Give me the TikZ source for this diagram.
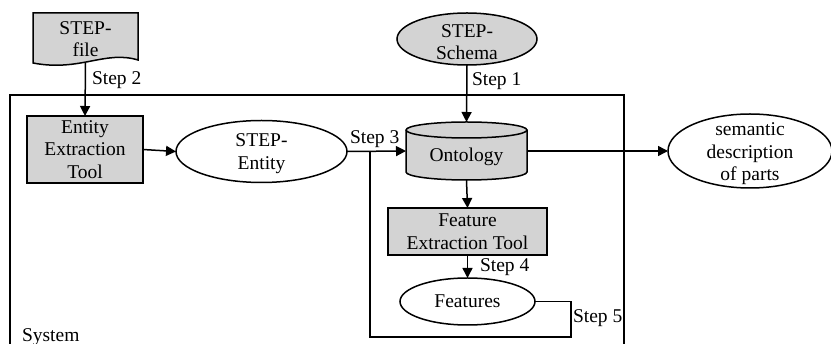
\documentclass[tikz,border=0pt]{standalone}
\usepackage{fontspec}
\setmainfont{Liberation Serif}
\usetikzlibrary{arrows.meta,shapes.geometric}
\definecolor{boxgray}{RGB}{211,211,211}
\begin{document}
\begin{tikzpicture}[x=1pt,y=-1pt,
  every node/.style={font=\fontsize{19.5}{22.5}\selectfont, inner sep=0pt, outer sep=0pt},
  line/.style={line width=1.5pt},
  arr/.style={line width=1.5pt, -{Triangle[length=10pt,width=10pt]}},
  toolbox/.style={rectangle, draw, line width=1.5pt, fill=boxgray, align=center},
  oval/.style={ellipse, draw, line width=1.5pt},
  steplabel/.style={anchor=west}]
\useasboundingbox (0,0) rectangle (831,344);
% system box
\draw[line] (10,360) -- (10,95) -- (624,95) -- (624,360);
\node[anchor=west] (system) at (22,337) {System};

% STEP-file document
\node[minimum width=105pt, minimum height=50pt] (stepfile) at (85.5,38) {};
\filldraw[line, fill=boxgray] (33,13) -- (138,13) -- (138,60)
   .. controls (105,50) and (80,72) .. (33,63) -- cycle;
\node[align=center] at (85.5,39) {STEP-\\file};

% Entity Extraction Tool
\node[toolbox, minimum width=116pt, minimum height=67pt] (eet) at (85,149.5) {Entity\\Extraction\\Tool};

% STEP-Entity
\node[oval, minimum width=171pt, minimum height=62pt,
  label={[align=center,yshift=-2pt]center:{STEP-\\Entity}}] (stepentity) at (261.5,151.5) {};

% STEP-Schema
\node[oval, fill=boxgray, minimum width=140pt, minimum height=52pt,
  label={[align=center,yshift=-3pt]center:{STEP-\\Schema}}] (schema) at (467,39) {};

% Ontology cylinder
\node[minimum width=121pt, minimum height=58pt] (ontology) at (466.5,151) {};
\filldraw[line, fill=boxgray] (406,130) -- (406,172) arc[start angle=180, end angle=360, x radius=60.5pt, y radius=8pt]
   -- (527,130) arc[start angle=0, end angle=180, x radius=60.5pt, y radius=8pt] -- cycle;
\draw[line] (406,130) arc[start angle=180, end angle=360, x radius=60.5pt, y radius=8pt];
\node at (466.5,157) {Ontology};

% semantic description
\node[oval, minimum width=164pt, minimum height=74pt,
  label={[align=center,yshift=-3pt]center:{semantic\\description\\of parts}}] (semantic) at (750,151) {};

% Feature Extraction Tool
\node[toolbox, minimum width=159pt, minimum height=47pt] (fet) at (467.5,231.5) {Feature\\Extraction Tool};

% Features
\node[oval, minimum width=135pt, minimum height=47pt,
  label={center:Features}] (features) at (467.5,301.5) {};

\coordinate (junction) at (370,151);

% connectors
\draw[arr] (stepfile.south) -- (eet.north);
\draw[arr] (eet.east) -- (stepentity.west);
\draw[arr] (stepentity.east) -- (ontology.west);
\draw[arr] (schema.south) -- (ontology.north);
\draw[arr] (ontology.east) -- (semantic.west);
\draw[arr] (ontology.south) -- (fet.north);
\draw[arr] (fet.south) -- (features.north);
\draw[line] (features.east) -- (571,301.5) -- (571,337) -- (370,337) -- (junction);

% step labels
\node[steplabel] at (92,80) {Step 2};
\node[steplabel] at (472,81) {Step 1};
\node[steplabel] at (350,139) {Step 3};
\node[steplabel] at (480,267) {Step 4};
\node[steplabel] at (573,318) {Step 5};
\end{tikzpicture}
\end{document}
